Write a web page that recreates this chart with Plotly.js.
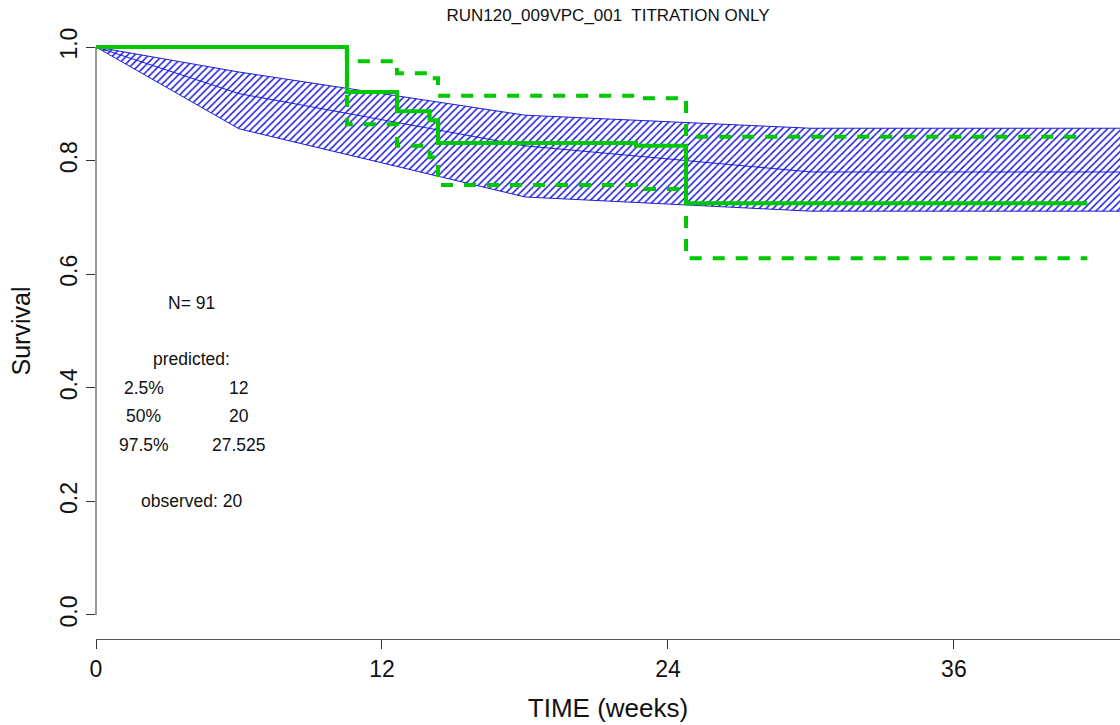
<!DOCTYPE html>
<html>
<head>
<meta charset="utf-8">
<script src="https://cdn.plot.ly/plotly-3.0.1.min.js"></script>
<style>html,body{margin:0;padding:0;background:#fff;}#chart{width:1120px;height:725px;}</style>
</head>
<body>
<div id="chart"></div>
<script>
// Predicted (simulated) survival band
const predTime   = [0, 6, 18, 30, 48];
const predUpper  = [1, 0.956, 0.880, 0.857, 0.857];
const predMedian = [1, 0.918, 0.826, 0.780, 0.780];
const predLower  = [1, 0.856, 0.736, 0.711, 0.711];

// Observed Kaplan-Meier with confidence limits
const obsTime  = [0, 10.53, 12.63, 14.0, 14.35, 22.66, 24.76, 41.6];
const obsSurv  = [1, 0.921, 0.887, 0.871, 0.831, 0.826, 0.725, 0.725];
const obsUpper = [1, 0.975, 0.954, 0.945, 0.914, 0.910, 0.842, 0.842];
const obsLower = [1, 0.864, 0.826, 0.806, 0.757, 0.750, 0.628, 0.628];

// Tick labels
const xTicks = [0, 12, 24, 36, 48];
const yTicks = [0, 0.2, 0.4, 0.6, 0.8, 1.0];
const yTickText = ['0.0', '0.2', '0.4', '0.6', '0.8', '1.0'];

// Text block
const textLabels = ['N= 91', 'predicted:', '2.5%', '12', '50%', '20', '97.5%', '27.525', 'observed: 20'];
const textX = [4, 4, 2, 6, 2, 6, 2, 6, 4];
const textY = [0.55, 0.45, 0.40, 0.40, 0.35, 0.35, 0.30, 0.30, 0.20];

const blue = 'rgb(30,30,220)';
const green = 'rgb(0,200,0)';
const FONT = '"Liberation Sans", Arial, sans-serif';

const traces = [
  {x: predTime, y: predUpper, mode: 'lines', line: {color: blue, width: 1}, hoverinfo: 'skip'},
  {x: predTime, y: predLower, mode: 'lines', line: {color: blue, width: 1}, fill: 'tonexty',
   fillcolor: 'rgba(0,0,0,0)',
   fillpattern: {shape: '/', fgcolor: blue, bgcolor: 'rgba(255,255,255,0)', size: 5, solidity: 0.3},
   hoverinfo: 'skip'},
  {x: predTime, y: predMedian, mode: 'lines', line: {color: blue, width: 1}},
  {x: obsTime, y: obsUpper, mode: 'lines', line: {color: green, width: 4, shape: 'hv', dash: '12px,11px'}},
  {x: obsTime, y: obsLower, mode: 'lines', line: {color: green, width: 4, shape: 'hv', dash: '12px,11px'}},
  {x: obsTime, y: obsSurv, mode: 'lines', line: {color: green, width: 4, shape: 'hv'}}
];

const annotations = textLabels.map((t, i) => ({
  x: textX[i], y: textY[i], xref: 'x', yref: 'y', text: t, showarrow: false,
  xanchor: 'center', yanchor: 'middle', font: {family: FONT, size: 17.5, color: '#111'}
}));

const layout = {
  width: 1120, height: 725,
  margin: {l: 96, r: 0, t: 23, b: 86},
  paper_bgcolor: '#fff', plot_bgcolor: '#fff',
  showlegend: false,
  font: {family: FONT, color: '#111'},
  title: {text: 'RUN120_009VPC_001  TITRATION ONLY', x: 0.5, xref: 'paper', y: 1 - 15/725, yref: 'container',
          yanchor: 'middle', font: {family: FONT, size: 17, color: '#111'}},
  xaxis: {
    range: [0, 42.97], tickvals: xTicks, ticktext: xTicks.map(String),
    showgrid: false, zeroline: false, showline: true, linecolor: '#555', linewidth: 1,
    ticks: 'outside', ticklen: 9, tickcolor: '#333', tickwidth: 1,
    tickfont: {family: FONT, size: 23, color: '#111'},
    title: {text: 'TIME (weeks)', font: {family: FONT, size: 26, color: '#111'}, standoff: 18},
    automargin: false
  },
  yaxis: {
    range: [-0.0423, 1.0423], tickvals: yTicks, ticktext: yTickText, tickangle: -90,
    showgrid: false, zeroline: false, showline: false,
    ticks: 'outside', ticklen: 9, tickcolor: '#333', tickwidth: 1,
    tickfont: {family: FONT, size: 23, color: '#111'},
    title: {text: 'Survival', font: {family: FONT, size: 25, color: '#111'}, standoff: 18},
    automargin: false
  },
  shapes: [
    {type: 'line', xref: 'paper', yref: 'y', x0: 0, x1: 0, y0: 0, y1: 1, line: {color: '#777', width: 1.5}, layer: 'above'}
  ],
  annotations: annotations
};

Plotly.newPlot('chart', traces, layout, {displayModeBar: false, staticPlot: true});
</script>
</body>
</html>
